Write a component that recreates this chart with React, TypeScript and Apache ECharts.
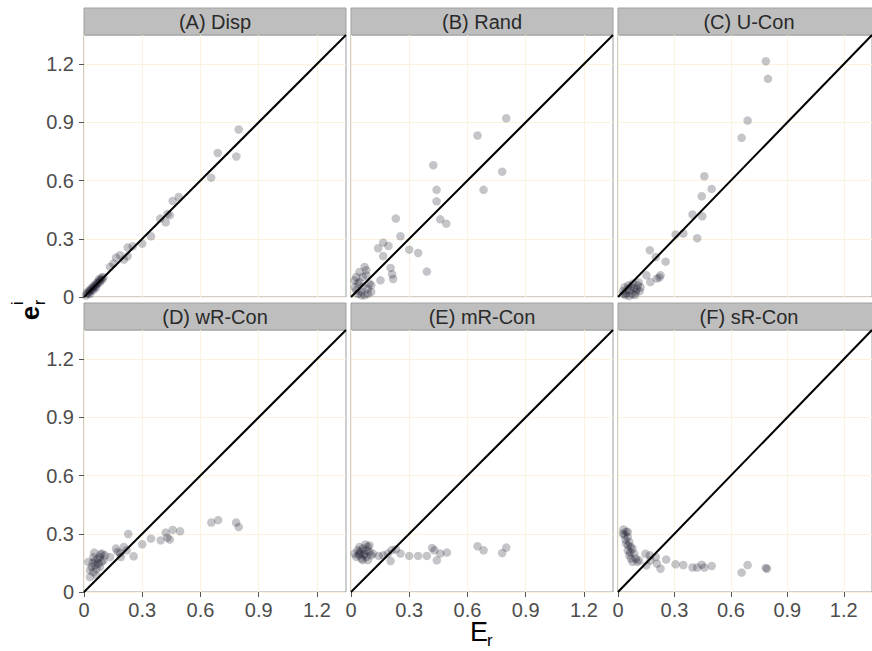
import React, { useEffect, useRef } from "react";
import * as echarts from "echarts";

// ---- data ----
const PANEL_TITLES = ["(A) Disp", "(B) Rand", "(C) U-Con", "(D) wR-Con", "(E) mR-Con", "(F) sR-Con"];
const TICKS = [0, 0.3, 0.6, 0.9, 1.2];
const AXIS_MIN = 0;
const AXIS_MAX = 1.35;
const DIAG = [0, 1.35];

const DISP = [
  [0.797, 0.863], [0.689, 0.742], [0.785, 0.724], [0.655, 0.615], [0.488, 0.515], [0.457, 0.495],
  [0.442, 0.421], [0.43, 0.428], [0.393, 0.404], [0.421, 0.385], [0.345, 0.313], [0.3, 0.275],
  [0.251, 0.261], [0.225, 0.255], [0.225, 0.21], [0.206, 0.193], [0.186, 0.215], [0.165, 0.203],
  [0.151, 0.172], [0.134, 0.155], [0.1, 0.103], [0.095, 0.09], [0.085, 0.088], [0.082, 0.075],
  [0.075, 0.08], [0.07, 0.068], [0.065, 0.072], [0.06, 0.058], [0.055, 0.062], [0.05, 0.048],
  [0.045, 0.052], [0.04, 0.038], [0.035, 0.042], [0.03, 0.028], [0.025, 0.032], [0.02, 0.018],
  [0.015, 0.022], [0.01, 0.008], [0.09, 0.1], [0.078, 0.092], [0.062, 0.048], [0.048, 0.035],
  [0.03, 0.015],
];
const RAND = [
  [0.8, 0.921], [0.652, 0.832], [0.779, 0.646], [0.424, 0.679], [0.441, 0.552], [0.683, 0.552],
  [0.441, 0.493], [0.46, 0.4], [0.491, 0.378], [0.231, 0.404], [0.255, 0.313], [0.166, 0.28],
  [0.193, 0.263], [0.14, 0.251], [0.3, 0.244], [0.346, 0.227], [0.166, 0.211], [0.391, 0.131],
  [0.204, 0.15], [0.212, 0.117], [0.217, 0.093], [0.152, 0.086],
  [0.07, 0.155], [0.044, 0.129], [0.027, 0.103], [0.079, 0.112], [0.095, 0.069], [0.061, 0.052],
  [0.035, 0.069], [0.087, 0.017], [0.053, 0.026], [0.027, 0.034], [0.104, 0.026], [0.07, 0.009],
  [0.018, 0.086], [0.044, 0.077], [0.061, 0.103], [0.079, 0.138], [0.104, 0.06], [0.053, 0.009],
  [0.035, 0.017], [0.087, 0.043], [0.02, 0.05],
];
const UCON = [
  [0.786, 1.215], [0.797, 1.124], [0.689, 0.909], [0.657, 0.82], [0.459, 0.622], [0.498, 0.557],
  [0.445, 0.519], [0.396, 0.425], [0.448, 0.416], [0.306, 0.322], [0.347, 0.327], [0.421, 0.303],
  [0.169, 0.241], [0.201, 0.206], [0.253, 0.182], [0.151, 0.112], [0.226, 0.112], [0.172, 0.077],
  [0.206, 0.095], [0.22, 0.1],
  [0.026, 0.03], [0.035, 0.05], [0.045, 0.02], [0.055, 0.06], [0.065, 0.035], [0.075, 0.015],
  [0.085, 0.045], [0.095, 0.025], [0.105, 0.06], [0.115, 0.03], [0.04, 0.01], [0.06, 0.005],
  [0.08, 0.07], [0.05, 0.04], [0.07, 0.055], [0.09, 0.01], [0.1, 0.04], [0.03, 0.015],
  [0.12, 0.05], [0.11, 0.075],
];
const WRCON = [
  [0.691, 0.37], [0.656, 0.358], [0.784, 0.358], [0.797, 0.335], [0.495, 0.313], [0.457, 0.32],
  [0.421, 0.306], [0.395, 0.266], [0.442, 0.27], [0.43, 0.28], [0.345, 0.275], [0.3, 0.246],
  [0.228, 0.299], [0.256, 0.184], [0.206, 0.232], [0.186, 0.2], [0.165, 0.224], [0.173, 0.208],
  [0.134, 0.18], [0.22, 0.215], [0.19, 0.18],
  [0.053, 0.203], [0.094, 0.198], [0.031, 0.077], [0.065, 0.086], [0.04, 0.129], [0.074, 0.146],
  [0.057, 0.163], [0.082, 0.18], [0.1, 0.163], [0.031, 0.112], [0.048, 0.103], [0.065, 0.12],
  [0.082, 0.129], [0.091, 0.155], [0.022, 0.155], [0.108, 0.189], [0.048, 0.18], [0.06, 0.14],
  [0.07, 0.17], [0.045, 0.15], [0.085, 0.195],
];
const MRCON = [
  [0.8, 0.229], [0.779, 0.201], [0.652, 0.236], [0.683, 0.215], [0.494, 0.203], [0.46, 0.198],
  [0.442, 0.163], [0.43, 0.215], [0.418, 0.227], [0.391, 0.186], [0.346, 0.186], [0.3, 0.186],
  [0.255, 0.198], [0.231, 0.219], [0.204, 0.16], [0.21, 0.216], [0.166, 0.189], [0.143, 0.186],
  [0.19, 0.198],
  [0.044, 0.198], [0.061, 0.224], [0.087, 0.232], [0.027, 0.181], [0.053, 0.172], [0.079, 0.181],
  [0.095, 0.207], [0.07, 0.198], [0.035, 0.215], [0.104, 0.189], [0.061, 0.164], [0.044, 0.232],
  [0.087, 0.164], [0.018, 0.198], [0.113, 0.198], [0.075, 0.245], [0.05, 0.21], [0.065, 0.19],
  [0.08, 0.215], [0.095, 0.24], [0.04, 0.19],
];
const SRCON = [
  [0.792, 0.12], [0.785, 0.124], [0.689, 0.139], [0.657, 0.1], [0.498, 0.134], [0.459, 0.126],
  [0.445, 0.141], [0.421, 0.126], [0.396, 0.126], [0.347, 0.139], [0.306, 0.143], [0.256, 0.167],
  [0.226, 0.12], [0.207, 0.146], [0.169, 0.189], [0.201, 0.18], [0.151, 0.137], [0.172, 0.163],
  [0.146, 0.197], [0.112, 0.163],
  [0.029, 0.322], [0.043, 0.31], [0.052, 0.284], [0.034, 0.293], [0.06, 0.258], [0.043, 0.249],
  [0.069, 0.232], [0.052, 0.215], [0.077, 0.223], [0.06, 0.189], [0.086, 0.197], [0.095, 0.172],
  [0.069, 0.172], [0.103, 0.155], [0.077, 0.155], [0.052, 0.31], [0.026, 0.302], [0.04, 0.27],
  [0.065, 0.205], [0.055, 0.24],
];
const PANEL_DATA = [DISP, RAND, UCON, WRCON, MRCON, SRCON];

// ---- layout ----
const COL_LEFT = [84, 351, 618];
const ROW_TOP = [35, 330];
const PANEL_SIZE = 262;
const STRIP_H = 27;
const FONT = "'Liberation Sans', Arial, sans-serif";

export default function App() {
  const ref = useRef<HTMLDivElement>(null);

  useEffect(() => {
    if (!ref.current) return;
    const chart = echarts.init(ref.current, undefined, { renderer: "svg" });

    const grids: any[] = [];
    const xAxes: any[] = [];
    const yAxes: any[] = [];
    const series: any[] = [];
    const graphics: any[] = [];

    PANEL_TITLES.forEach((title, i) => {
      const col = i % 3;
      const row = Math.floor(i / 3);
      const left = COL_LEFT[col];
      const top = ROW_TOP[row];
      grids.push({
        left,
        top,
        width: PANEL_SIZE,
        height: PANEL_SIZE,
        show: true,
        backgroundColor: "#ffffff",
        borderColor: "#9e9e9e",
        borderWidth: 1,
      });
      const common = {
        type: "value",
        gridIndex: i,
        min: AXIS_MIN,
        max: AXIS_MAX,
        interval: 0.3,
        axisLine: { show: false },
        splitLine: { show: true, lineStyle: { color: "#fcf3de", width: 1 } },
      };
      xAxes.push({
        ...common,
        axisTick: {
          show: row === 1,
          length: 5,
          lineStyle: { color: "#555" },
          customValues: TICKS,
        },
        axisLabel: {
          show: row === 1,
          customValues: TICKS,
          fontSize: 20,
          color: "#4d4d4d",
          fontFamily: FONT,
          margin: 8,
          formatter: (v: number) => String(v),
        },
      });
      yAxes.push({
        ...common,
        axisTick: {
          show: col === 0,
          length: 5,
          lineStyle: { color: "#555" },
          customValues: TICKS,
        },
        axisLabel: {
          show: col === 0,
          customValues: TICKS,
          fontSize: 20,
          color: "#4d4d4d",
          fontFamily: FONT,
          margin: 10,
          formatter: (v: number) => String(v),
        },
      });
      series.push({
        type: "scatter",
        xAxisIndex: i,
        yAxisIndex: i,
        data: PANEL_DATA[i],
        symbolSize: 8.5,
        itemStyle: { color: "rgba(10,10,30,0.3)" },
        z: 2,
        silent: true,
      });
      series.push({
        type: "line",
        xAxisIndex: i,
        yAxisIndex: i,
        data: DIAG.map((v) => [v, v]),
        showSymbol: false,
        lineStyle: { color: "#000", width: 2 },
        z: 3,
        silent: true,
      });
      graphics.push({
        type: "rect",
        shape: { x: left, y: top - STRIP_H, width: PANEL_SIZE, height: STRIP_H },
        style: { fill: "#bebebe", stroke: "#a0a0a0", lineWidth: 1 },
      });
      graphics.push({
        type: "text",
        x: left + PANEL_SIZE / 2,
        y: top - STRIP_H / 2,
        style: {
          text: title,
          fontSize: 20,
          fontFamily: FONT,
          fill: "#2a2a2a",
          align: "center",
          verticalAlign: "middle",
        },
      });
    });

    // axis titles
    graphics.push({
      type: "group",
      x: 30,
      y: 313,
      rotation: Math.PI / 2,
      children: [
        {
          type: "text",
          x: 0,
          y: 0,
          style: { text: "e", fontSize: 26, fontWeight: "bold", fontFamily: FONT, fill: "#000", align: "center", verticalAlign: "middle" },
        },
        {
          type: "text",
          x: 8,
          y: -13,
          style: { text: "i", fontSize: 16, fontFamily: FONT, fill: "#000", align: "left", verticalAlign: "middle" },
        },
        {
          type: "text",
          x: 8,
          y: 9,
          style: { text: "r", fontSize: 16, fontFamily: FONT, fill: "#000", align: "left", verticalAlign: "middle" },
        },
      ],
    });
    graphics.push({
      type: "text",
      x: 479,
      y: 632,
      style: { text: "E", fontSize: 27, fontFamily: FONT, fill: "#000", align: "center", verticalAlign: "middle" },
    });
    graphics.push({
      type: "text",
      x: 487,
      y: 640,
      style: { text: "r", fontSize: 17, fontFamily: FONT, fill: "#000", align: "left", verticalAlign: "middle" },
    });

    chart.setOption({
      animation: false,
      backgroundColor: "#ffffff",
      grid: grids,
      xAxis: xAxes,
      yAxis: yAxes,
      series,
      graphic: graphics,
    });

    return () => chart.dispose();
  }, []);

  return (
    <div
      ref={ref}
      style={{ position: "absolute", left: 0, top: 0, width: 872, height: 651 }}
    />
  );
}
